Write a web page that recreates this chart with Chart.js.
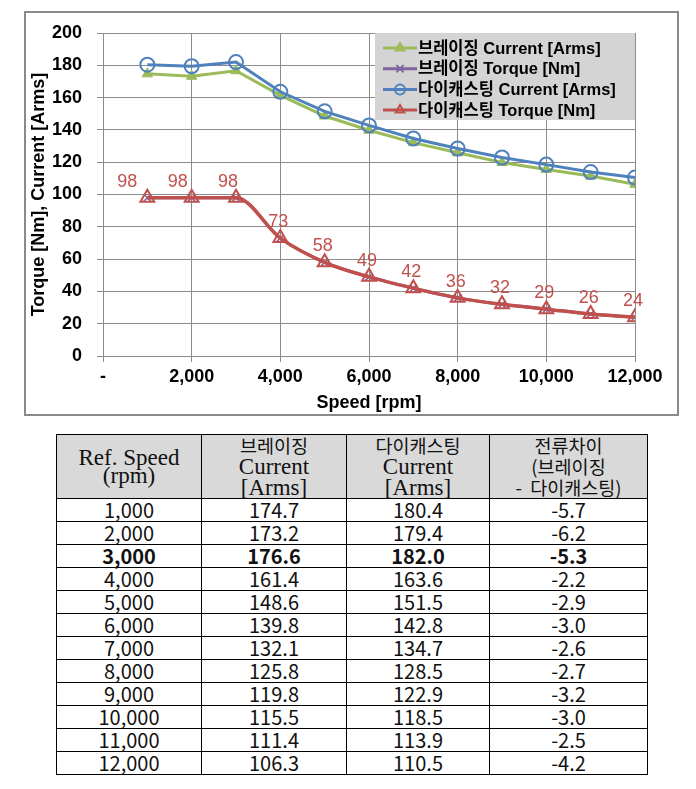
<!DOCTYPE html>
<html><head><meta charset="utf-8">
<script src="https://cdn.jsdelivr.net/npm/chart.js@4.4.1/dist/chart.umd.min.js"></script>
<style>
body{margin:0;background:#fff;width:696px;height:789px;position:relative;overflow:hidden}
#frame{position:absolute;left:24px;top:11px;width:651px;height:401px;border:2px solid #8a8a8a}
#c{position:absolute;left:0;top:0}
table{position:absolute;left:56px;top:434px;border-collapse:collapse;table-layout:fixed;width:592px}
td,th{border:1px solid #000;padding:0;text-align:center;vertical-align:middle}
th{background:#d9d9d9;font-family:"Liberation Serif","Noto Sans CJK KR",serif;font-weight:normal;font-size:23px;line-height:21px;height:62px;color:#111}
th.first{line-height:18px}
th span.k{font-family:"Noto Sans CJK KR",sans-serif;font-size:18.5px}
td{font-family:"Noto Sans CJK KR",sans-serif;font-size:20px;line-height:22px;height:22px;color:#111}
tr.b td{font-weight:bold}
</style>
</head><body>
<div id="frame"></div>
<canvas id="c" width="696" height="420"></canvas>
<table id="t"></table>
<script>
// ---- data ----
const speeds = [1000,2000,3000,4000,5000,6000,7000,8000,9000,10000,11000,12000];
const brazeCurrent = [174.7,173.2,176.6,161.4,148.6,139.8,132.1,125.8,119.8,115.5,111.4,106.3];
const brazeTorque  = [98,98,98,73,58,49,42,36,32,29,26,24];
const dieCurrent   = [180.4,179.4,182.0,163.6,151.5,142.8,134.7,128.5,122.9,118.5,113.9,110.5];
const dieTorque    = [98,98,98,73,58,49,42,36,32,29,26,24];
const currentDiff  = [-5.7,-6.2,-5.3,-2.2,-2.9,-3.0,-2.6,-2.7,-3.2,-3.0,-2.5,-4.2];
const seriesNames  = ['브레이징 Current [Arms]','브레이징 Torque [Nm]','다이캐스팅 Current [Arms]','다이캐스팅 Torque [Nm]'];
const xTickValues  = [0,2000,4000,6000,8000,10000,12000];
const yTickValues  = [0,20,40,60,80,100,120,140,160,180,200];
const tableHeaders = [['Ref. Speed','(rpm)'],['브레이징','Current','[Arms]'],['다이캐스팅','Current','[Arms]'],['전류차이','(브레이징','-\u00a0\u00a0다이캐스팅)']];
const boldRow = 3000;

const pts = arr => arr.map((v,i)=>({x:speeds[i],y:v}));
const fmt = v => v===0 ? '-' : v.toLocaleString('en-US');

const labelPlugin = {
  id:'valLabels',
  afterDatasetsDraw(chart){
    const ctx=chart.ctx, meta=chart.getDatasetMeta(3);
    ctx.save();
    ctx.font='18px "Liberation Sans", Arial';
    ctx.fillStyle='#c0504d';
    ctx.textAlign='center'; ctx.textBaseline='middle';
    meta.data.forEach((p,i)=>{
      const dx = i<3 ? -20+ i*6 : -2;
      ctx.fillText(String(dieTorque[i]), p.x+dx, p.y-16);
    });
    ctx.restore();
  }
};
const legendPlugin = {
  id:'xlLegend',
  afterDraw(chart){
    const ctx=chart.ctx, a=chart.chartArea;
    const w=260,h=87,left=a.right-w,top=a.top;
    ctx.save();
    ctx.fillStyle='#d4d4d4';
    ctx.fillRect(left,top,w,h);
    chart.data.datasets.forEach((ds,i)=>{
      const y=top+15+i*20.7;
      ctx.strokeStyle=ds.borderColor; ctx.lineWidth=3;
      ctx.beginPath(); ctx.moveTo(left+8,y); ctx.lineTo(left+42,y); ctx.stroke();
      ctx.fillStyle=ds.pointBackgroundColor; ctx.strokeStyle=ds.borderColor; ctx.lineWidth=2;
      Chart.helpers.drawPoint(ctx,{pointStyle:ds.pointStyle,radius:5,borderWidth:2},left+25,y);
      ctx.fillStyle='#000';
      ctx.font='bold 16.5px "Liberation Sans", "Noto Sans CJK KR", Arial';
      ctx.textAlign='left'; ctx.textBaseline='middle';
      ctx.fillText(ds.label,left+43,y+1);
    });
    ctx.restore();
  }
};

const tickFont={family:'"Liberation Sans", Arial',size:18,weight:'bold'};
new Chart(document.getElementById('c'),{
  type:'line',
  data:{datasets:[
    {label:seriesNames[0],data:pts(brazeCurrent),borderColor:'#9bbb59',backgroundColor:'#9bbb59',pointBackgroundColor:'#9bbb59',pointBorderColor:'#9bbb59',pointStyle:'triangle',pointRadius:6,pointBorderWidth:1,borderWidth:3,tension:0,order:3},
    {label:seriesNames[1],data:pts(brazeTorque),borderColor:'#8064a2',backgroundColor:'#8064a2',pointBackgroundColor:'#8064a2',pointBorderColor:'#8064a2',pointStyle:'crossRot',pointRadius:5,pointBorderWidth:1.5,borderWidth:3,cubicInterpolationMode:'monotone',order:2},
    {label:seriesNames[2],data:pts(dieCurrent),borderColor:'#4f81bd',backgroundColor:'#4f81bd',pointBackgroundColor:'rgba(0,0,0,0)',pointBorderColor:'#4f81bd',pointStyle:'circle',pointRadius:7,pointBorderWidth:2,borderWidth:3,tension:0,order:1},
    {label:seriesNames[3],data:pts(dieTorque),borderColor:'#c0504d',backgroundColor:'#c0504d',pointBackgroundColor:'rgba(0,0,0,0)',pointBorderColor:'#c0504d',pointStyle:'triangle',pointRadius:8,pointBorderWidth:2,borderWidth:3.5,cubicInterpolationMode:'monotone',order:0}
  ]},
  options:{
    responsive:false,animation:false,
    layout:{padding:{left:0,top:33,right:61,bottom:0}},
    plugins:{legend:{display:false},tooltip:{enabled:false}},
    scales:{
      x:{type:'linear',min:0,max:12000,
        afterBuildTicks:s=>{s.ticks=xTickValues.map(v=>({value:v}));},
        afterFit:s=>{s.height=64;},
        ticks:{font:tickFont,color:'#000',padding:4,callback:v=>fmt(v),maxRotation:0},
        grid:{color:'#8c8c8c',lineWidth:1,tickLength:6,drawTicks:true},
        border:{color:'#8c8c8c'},
        title:{display:true,text:'Speed [rpm]',font:tickFont,color:'#000',padding:{top:0,bottom:6}}},
      y:{min:0,max:200,
        afterBuildTicks:s=>{s.ticks=yTickValues.map(v=>({value:v}));},
        afterFit:s=>{s.width=103;},
        ticks:{font:tickFont,color:'#000',padding:15},
        grid:{color:'#8c8c8c',lineWidth:1,tickLength:6},
        border:{color:'#8c8c8c'},
        title:{display:true,text:'Torque [Nm], Current [Arms]',font:tickFont,color:'#000',padding:{top:28,bottom:0}}}
    }
  },
  plugins:[labelPlugin,legendPlugin]
});

// ---- table ----
const t=document.getElementById('t');
const cg=document.createElement('colgroup');
[145,145,143,158].forEach(w=>{const c=document.createElement('col');c.style.width=w+'px';cg.appendChild(c);});
t.appendChild(cg);
const hr=document.createElement('tr');
const esc=s=>s.replace(/[&<>]/g,c=>({'&':'&amp;','<':'&lt;','>':'&gt;'}[c]));
tableHeaders.forEach((h,i)=>{
  const th=document.createElement('th');
  if(i===0)th.className='first';
  th.innerHTML=h.map(line=>/[\uac00-\ud7a3]/.test(line)?'<span class="k">'+esc(line)+'</span>':esc(line)).join('<br>');
  hr.appendChild(th);
});
t.appendChild(hr);
speeds.forEach((s,i)=>{
  const tr=document.createElement('tr');
  if(s===boldRow) tr.className='b';
  [s.toLocaleString('en-US'),brazeCurrent[i].toFixed(1),dieCurrent[i].toFixed(1),currentDiff[i].toFixed(1)].forEach(v=>{
    const td=document.createElement('td');td.textContent=v;tr.appendChild(td);
  });
  t.appendChild(tr);
});
</script>
</body></html>
